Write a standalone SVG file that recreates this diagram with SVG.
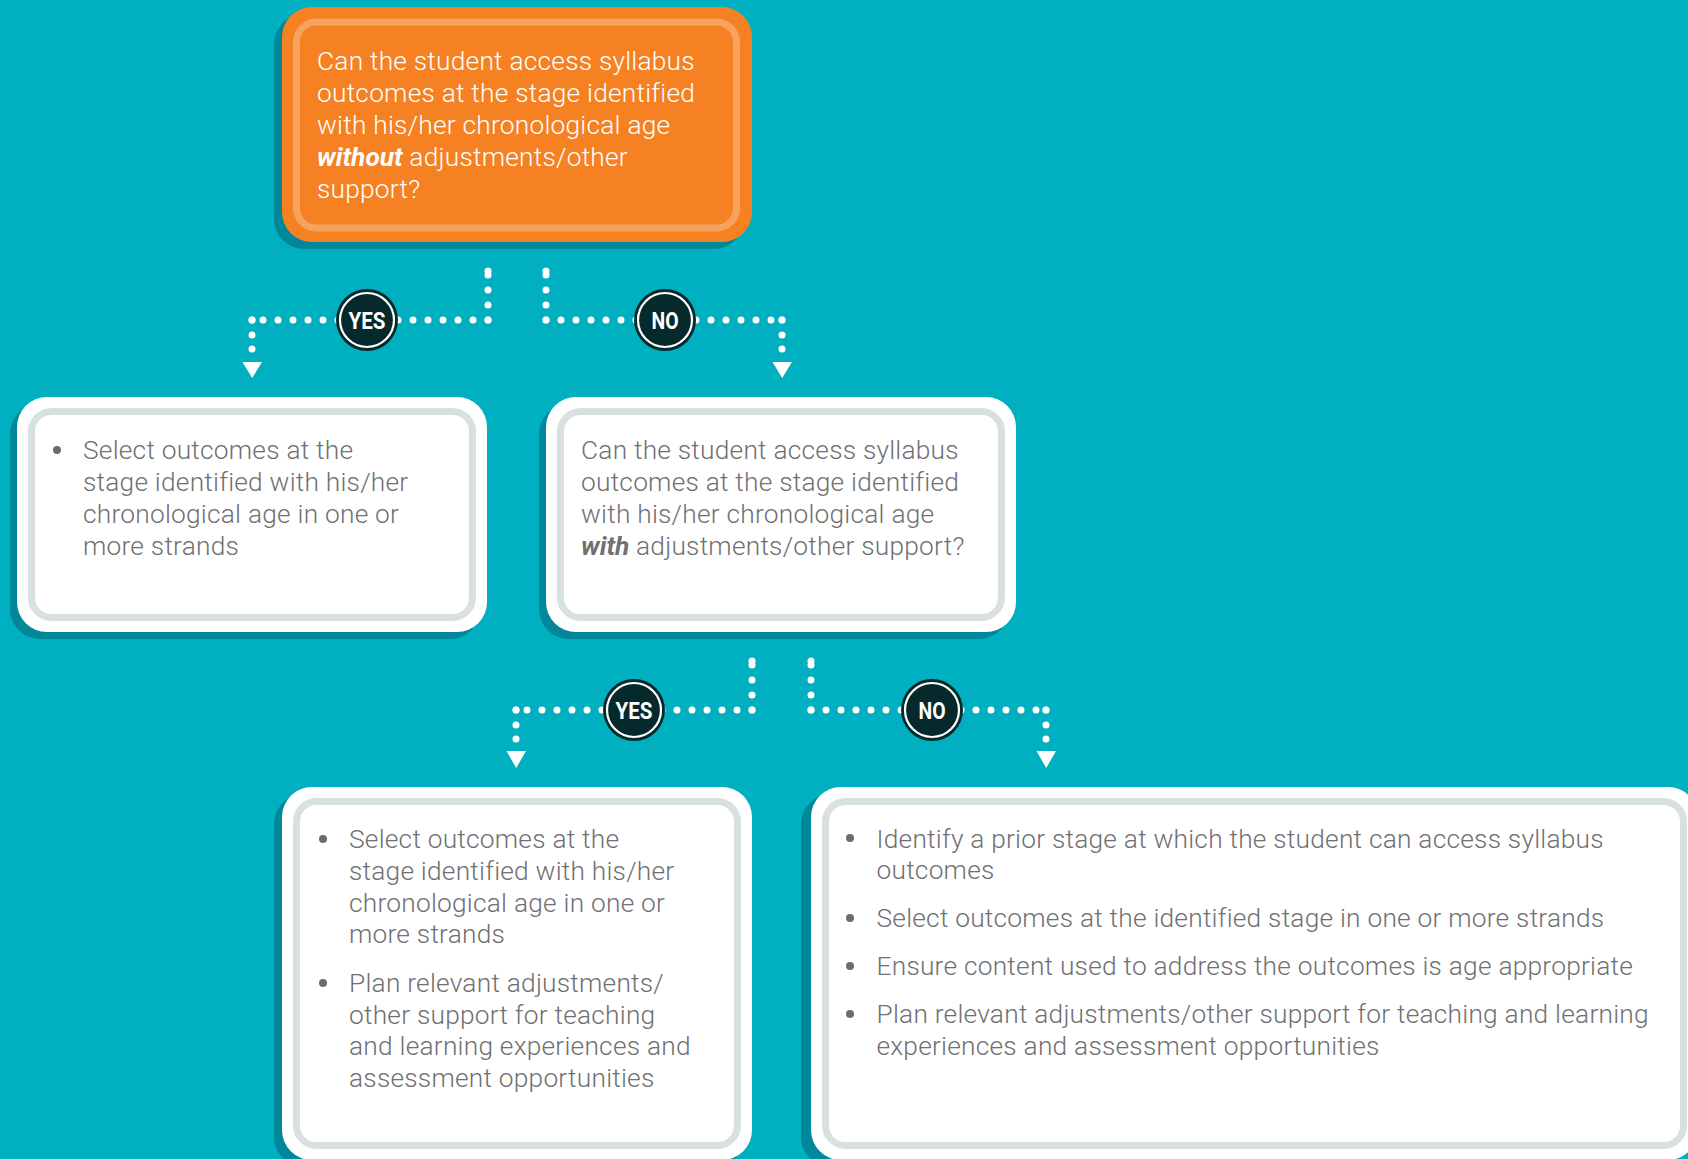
<svg xmlns="http://www.w3.org/2000/svg" width="1688" height="1159" viewBox="0 0 1688 1159">
<style>
.shadow{fill:#00879a}
.card{fill:#ffffff}
.inner{fill:none;stroke:#d8e0e2;stroke-width:7}
.txt{font-family:Roboto,"Open Sans","Liberation Sans",sans-serif;font-weight:300;font-size:26.3px;letter-spacing:0.23px;fill:#6f7073}
.otxt{fill:#ffffff}
.bi{font-weight:700;font-style:italic;letter-spacing:0}
.bullet{fill:#6a6b6d}
.dots{fill:none;stroke:#ffffff;stroke-width:7;stroke-linecap:round;stroke-dasharray:0 15}
.dot{fill:#ffffff}
.badge{fill:#062a2b}
.ring{fill:none;stroke:#ffffff;stroke-width:2.2}
.blabel{font-family:Roboto,"Liberation Sans",sans-serif;font-weight:700;font-size:24px;fill:#ffffff}
.arrow{fill:#ffffff}
</style>
<rect width="1688" height="1159" fill="#00b0c0"/>

<g id="q1">
<rect class="shadow" x="274" y="14" width="470" height="235" rx="30"/>
<rect x="282" y="7" width="470" height="235" rx="30" fill="#f58123"/>
<rect x="296.5" y="22" width="440" height="206" rx="20" fill="none" stroke="#f8a25f" stroke-width="7"/>
<text class="txt otxt" x="317" y="70">Can the student access syllabus</text>
<text class="txt otxt" x="317" y="102">outcomes at the stage identified</text>
<text class="txt otxt" x="317" y="134">with his/her chronological age</text>
<text class="txt otxt" x="317" y="166"><tspan class="bi">without</tspan> adjustments/other</text>
<text class="txt otxt" x="317" y="198">support?</text>
</g>

<g id="a1">
<rect class="shadow" x="10" y="404" width="470" height="235" rx="30"/>
<rect class="card" x="17" y="397" width="470" height="235" rx="30"/>
<rect class="inner" x="31.5" y="411.5" width="441" height="206" rx="20"/>
<circle class="bullet" cx="57" cy="450" r="4"/>
<text class="txt" x="83" y="459">Select outcomes at the</text>
<text class="txt" x="83" y="491">stage identified with his/her</text>
<text class="txt" x="83" y="523">chronological age in one or</text>
<text class="txt" x="83" y="555">more strands</text>
</g>

<g id="q2">
<rect class="shadow" x="539" y="404" width="470" height="235" rx="30"/>
<rect class="card" x="546" y="397" width="470" height="235" rx="30"/>
<rect class="inner" x="560.5" y="411.5" width="441" height="206" rx="20"/>
<text class="txt" x="581" y="459">Can the student access syllabus</text>
<text class="txt" x="581" y="491">outcomes at the stage identified</text>
<text class="txt" x="581" y="523">with his/her chronological age</text>
<text class="txt" x="581" y="555"><tspan class="bi">with</tspan> adjustments/other support?</text>
</g>

<g id="a2">
<rect class="shadow" x="274" y="794" width="470" height="373" rx="30"/>
<rect class="card" x="282" y="787" width="470" height="373" rx="30"/>
<rect class="inner" x="296.5" y="801.5" width="441" height="344" rx="20"/>
<circle class="bullet" cx="323" cy="839" r="4"/>
<text class="txt" x="349" y="848">Select outcomes at the</text>
<text class="txt" x="349" y="880">stage identified with his/her</text>
<text class="txt" x="349" y="912">chronological age in one or</text>
<text class="txt" x="349" y="943">more strands</text>
<circle class="bullet" cx="323" cy="983" r="4"/>
<text class="txt" x="349" y="992">Plan relevant adjustments/</text>
<text class="txt" x="349" y="1024">other support for teaching</text>
<text class="txt" x="349" y="1055">and learning experiences and</text>
<text class="txt" x="349" y="1087">assessment opportunities</text>
</g>

<g id="a3">
<rect class="shadow" x="801" y="794" width="887" height="373" rx="30"/>
<rect class="card" x="811" y="787" width="887" height="373" rx="30"/>
<rect class="inner" x="825.5" y="801.5" width="858" height="344" rx="20"/>
<circle class="bullet" cx="850" cy="838" r="4"/>
<text class="txt" x="876.5" y="848">Identify a prior stage at which the student can access syllabus</text>
<text class="txt" x="876.5" y="879">outcomes</text>
<circle class="bullet" cx="850" cy="918" r="4"/>
<text class="txt" x="876.5" y="927">Select outcomes at the identified stage in one or more strands</text>
<circle class="bullet" cx="850" cy="966" r="4"/>
<text class="txt" x="876.5" y="975">Ensure content used to address the outcomes is age appropriate</text>
<circle class="bullet" cx="850" cy="1014" r="4"/>
<text class="txt" x="876.5" y="1023">Plan relevant adjustments/other support for teaching and learning</text>
<text class="txt" x="876.5" y="1055">experiences and assessment opportunities</text>
</g>

<g id="connectors">
<!-- level 1 YES -->
<line class="dots" x1="488" y1="320" x2="488" y2="275"/>
<circle class="dot" cx="488" cy="275" r="3.5"/>
<circle class="dot" cx="488" cy="271" r="3.5"/>
<line class="dots" x1="488" y1="320" x2="252" y2="320"/>
<circle class="dot" cx="252" cy="320" r="3.5"/>
<line class="dots" x1="252" y1="320" x2="252" y2="350"/>
<circle class="dot" cx="252" cy="349" r="3.5"/>
<polygon class="arrow" points="242.5,362 262,362 252.2,378"/>
<!-- level 1 NO -->
<line class="dots" x1="546" y1="320" x2="546" y2="275"/>
<circle class="dot" cx="546" cy="275" r="3.5"/>
<circle class="dot" cx="546" cy="271" r="3.5"/>
<line class="dots" x1="546" y1="320" x2="782" y2="320"/>
<circle class="dot" cx="782" cy="320" r="3.5"/>
<line class="dots" x1="782" y1="320" x2="782" y2="350"/>
<circle class="dot" cx="782" cy="349" r="3.5"/>
<polygon class="arrow" points="772.5,362 792,362 782.2,378"/>
<!-- level 2 YES -->
<line class="dots" x1="752" y1="710" x2="752" y2="665"/>
<circle class="dot" cx="752" cy="665" r="3.5"/>
<circle class="dot" cx="752" cy="661" r="3.5"/>
<line class="dots" x1="752" y1="710" x2="516" y2="710"/>
<circle class="dot" cx="516" cy="710" r="3.5"/>
<line class="dots" x1="516" y1="710" x2="516" y2="740"/>
<circle class="dot" cx="516" cy="739" r="3.5"/>
<polygon class="arrow" points="506.5,751 526,751 516.2,768"/>
<!-- level 2 NO -->
<line class="dots" x1="811" y1="710" x2="811" y2="665"/>
<circle class="dot" cx="811" cy="665" r="3.5"/>
<circle class="dot" cx="811" cy="661" r="3.5"/>
<line class="dots" x1="811" y1="710" x2="1046" y2="710"/>
<circle class="dot" cx="1046" cy="710" r="3.5"/>
<line class="dots" x1="1046" y1="710" x2="1046" y2="740"/>
<circle class="dot" cx="1046" cy="739" r="3.5"/>
<polygon class="arrow" points="1036.5,751 1056,751 1046.2,768"/>
</g>

<g id="yes1">
<circle class="badge" cx="367" cy="320" r="31"/>
<circle class="ring" cx="367" cy="320" r="27"/>
<text class="blabel" x="367" y="328.5" text-anchor="middle" textLength="37" lengthAdjust="spacingAndGlyphs">YES</text>
</g>
<g id="no1">
<circle class="badge" cx="665" cy="320" r="31"/>
<circle class="ring" cx="665" cy="320" r="27"/>
<text class="blabel" x="665" y="328.5" text-anchor="middle" textLength="27" lengthAdjust="spacingAndGlyphs">NO</text>
</g>
<g id="yes2">
<circle class="badge" cx="634" cy="710" r="31"/>
<circle class="ring" cx="634" cy="710" r="27"/>
<text class="blabel" x="634" y="718.5" text-anchor="middle" textLength="37" lengthAdjust="spacingAndGlyphs">YES</text>
</g>
<g id="no2">
<circle class="badge" cx="932" cy="710" r="31"/>
<circle class="ring" cx="932" cy="710" r="27"/>
<text class="blabel" x="932" y="718.5" text-anchor="middle" textLength="27" lengthAdjust="spacingAndGlyphs">NO</text>
</g>
</svg>
